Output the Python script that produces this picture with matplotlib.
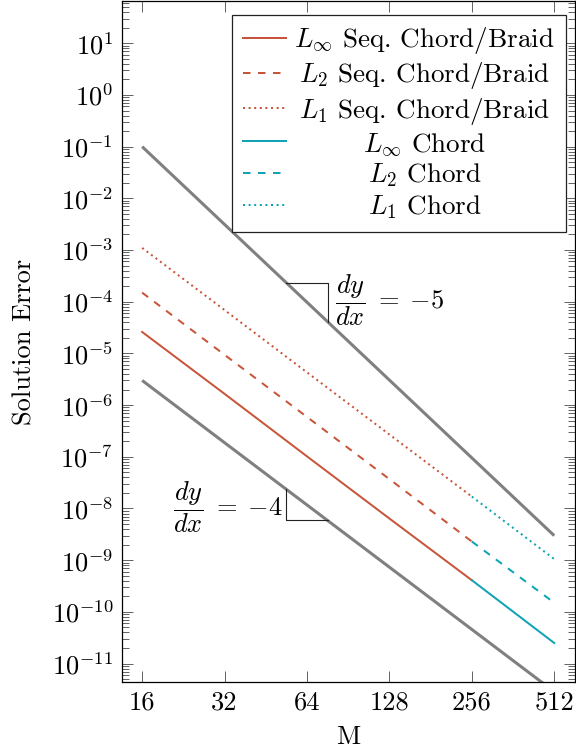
import matplotlib
matplotlib.use('Agg')
import matplotlib.pyplot as plt
import numpy as np
from matplotlib.ticker import LogLocator, NullFormatter

plt.rcParams['font.family'] = 'cmr10'
plt.rcParams['mathtext.fontset'] = 'cm'
plt.rcParams['axes.formatter.use_mathtext'] = True
plt.rcParams['font.size'] = 19

ORANGE = '#c8553a'
TEAL = '#0fa3b5'
GRAY = '#808080'

# values
M_seq = [16, 32, 64, 128, 256]
M_chord = [256, 512]
linf_seq = [2.6e-5, 1.65e-6, 1.02e-7, 6.4e-9, 4.1e-10]
l2_seq = [1.5e-4, 9.4e-6, 5.9e-7, 3.7e-8, 2.3e-9]
l1_seq = [1.1e-3, 6.9e-5, 4.3e-6, 2.7e-7, 1.7e-8]
linf_chord = [4.1e-10, 2.5e-11]
l2_chord = [2.3e-9, 1.5e-10]
l1_chord = [1.7e-8, 1.05e-9]

ref_M = [16, 512]
ref_slope5 = [1e-1, 2.98e-9]
ref_slope4 = [3e-6, 2.86e-12]
tri_M = [2 ** 5.75, 2 ** 6.25]

xticks = [16, 32, 64, 128, 256, 512]
ydecades = list(range(-11, 2))

DASHED = (0, (3.75, 3.75))
DOTTED = (0, (1.0, 1.8))
LW = 1.44

fig = plt.figure(figsize=(5.76, 7.5), dpi=100)
ax = fig.add_axes([0.211, 0.0907, 0.998 - 0.211, 0.9987 - 0.0907])
ax.set_xscale('log', base=2)
ax.set_yscale('log')

ax.plot(ref_M, ref_slope5, color=GRAY, lw=2.2, solid_capstyle='butt')
ax.plot(ref_M, ref_slope4, color=GRAY, lw=2.2, solid_capstyle='butt')

ax.plot(M_seq, linf_seq, color=ORANGE, lw=LW, label=r'$L_\infty$ Seq. Chord/Braid')
ax.plot(M_seq, l2_seq, color=ORANGE, lw=LW, ls=DASHED, label=r'$L_2$ Seq. Chord/Braid')
ax.plot(M_seq, l1_seq, color=ORANGE, lw=LW, ls=DOTTED, label=r'$L_1$ Seq. Chord/Braid')
ax.plot(M_chord, linf_chord, color=TEAL, lw=LW, label=r'$L_\infty$ Chord')
ax.plot(M_chord, l2_chord, color=TEAL, lw=LW, ls=DASHED, label=r'$L_2$ Chord')
ax.plot(M_chord, l1_chord, color=TEAL, lw=LW, ls=DOTTED, label=r'$L_1$ Chord')


def on_line(xs, line):
    return 10 ** np.interp(np.log2(xs), np.log2(ref_M), np.log10(line))


# slope triangles
t5 = on_line(tri_M, ref_slope5)
ax.plot([tri_M[0], tri_M[1], tri_M[1]], [t5[0], t5[0], t5[1]], color='#222222', lw=0.8)
t4 = on_line(tri_M, ref_slope4)
ax.plot([tri_M[0], tri_M[0], tri_M[1]], [t4[0], t4[1], t4[1]], color='#222222', lw=0.8)
ax.text(81.2, 1.08e-4, r'$\dfrac{dy}{dx}\;=\;{-5}$', ha='left', va='center')
ax.text(52.0, 1.07e-8, r'$\dfrac{dy}{dx}\;=\;{-4}$', ha='right', va='center')

ax.set_xlim(2 ** 3.75, 2 ** 9.25)
ax.set_ylim(10 ** -11.356, 10 ** 1.818)
ax.set_xticks(xticks, [str(v) for v in xticks])
ax.xaxis.set_minor_locator(plt.NullLocator())
ax.set_yticks([10.0 ** k for k in ydecades])
ax.yaxis.set_minor_locator(LogLocator(base=10, subs=np.arange(2, 10), numticks=30))
ax.yaxis.set_minor_formatter(NullFormatter())
ax.tick_params(which='both', direction='in', top=True, right=True, color='0.4', width=0.72)
ax.tick_params(which='major', length=7.7, pad=6)
ax.tick_params(which='minor', length=5)
for s in ax.spines.values():
    s.set_linewidth(0.9)

ax.set_xlabel('M', labelpad=8)
ax.set_ylabel('Solution Error', labelpad=11)

leg = ax.legend(loc='upper right', bbox_to_anchor=(0.98, 0.98), borderaxespad=0,
                fancybox=False, framealpha=1, edgecolor='#222222', fontsize=19.5,
                handlelength=1.6, handletextpad=0.3, borderpad=0.4, labelspacing=0.15)
leg.get_frame().set_linewidth(0.9)

# centre the legend labels like pgfplots does
fig.canvas.draw()
r = fig.canvas.get_renderer()
texts = leg.get_texts()
widths = [t.get_window_extent(r).width for t in texts]
wmax = max(widths)
for t, w in zip(texts, widths):
    t.set_x((wmax - w) / 2)

fig.savefig('out.png', dpi=100)
